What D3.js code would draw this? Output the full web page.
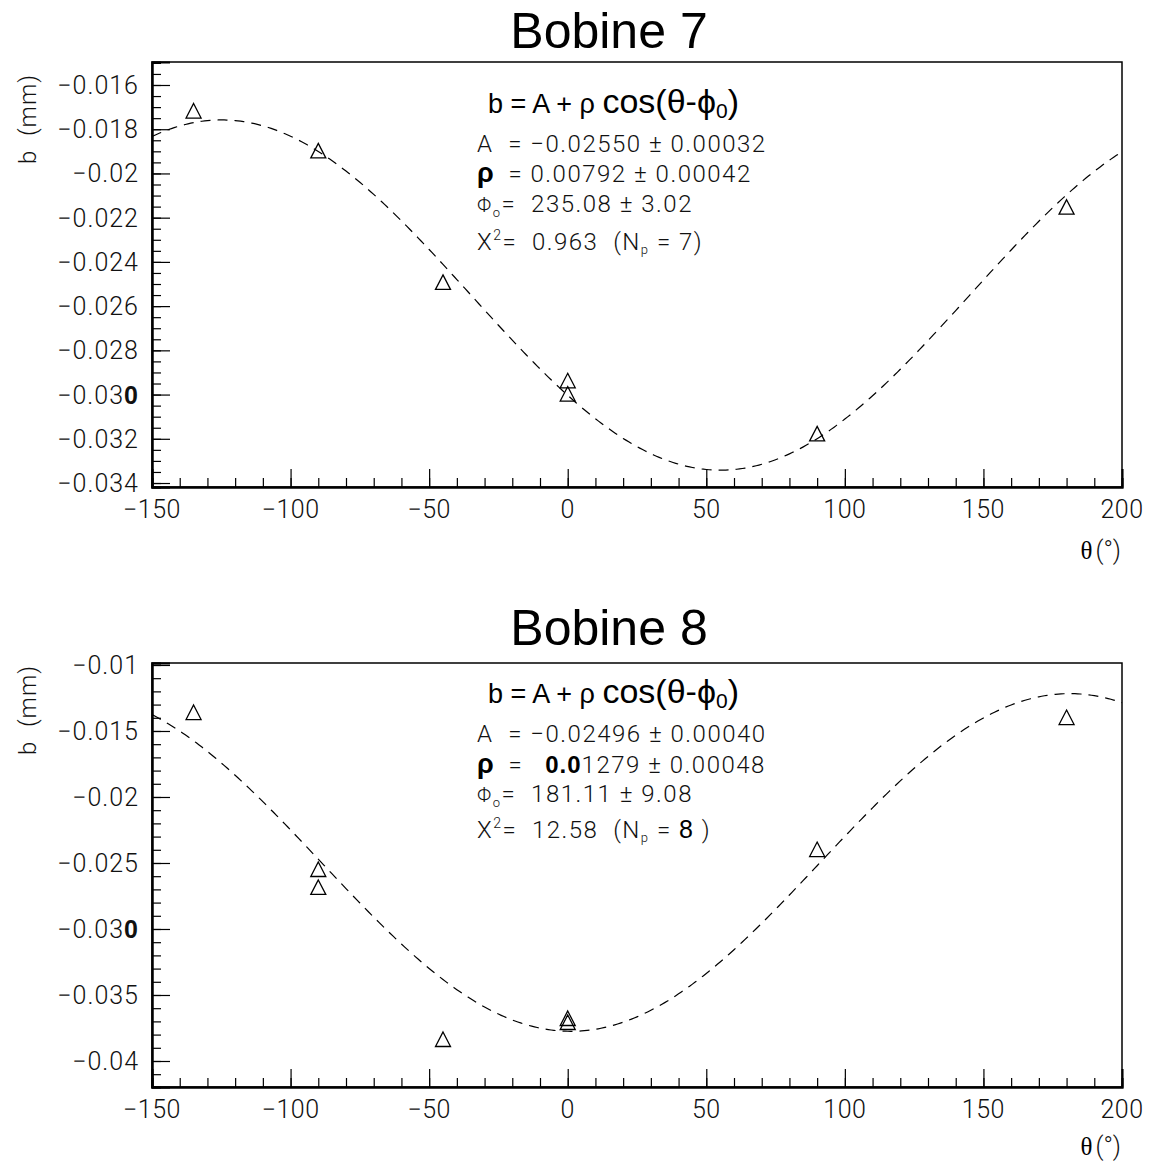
<!DOCTYPE html>
<html><head><meta charset="utf-8">
<script src="https://cdn.jsdelivr.net/npm/d3@7"></script>
<style>
body{margin:0;background:#fff;}
svg{display:block;}
.lt{font-family:Roboto,"Liberation Sans",sans-serif;font-weight:300;fill:#111;}
.ar{font-family:"Liberation Sans",Arial,sans-serif;fill:#000;}
</style></head>
<body>
<script>
// ---------- data ----------
const titles = ["Bobine 7", "Bobine 8"];
const thetaB7 = [-135, -90, -45, 0, 0, 90, 180];
const bB7 = [-0.0172, -0.0190, -0.02495, -0.0294, -0.0300, -0.0318, -0.02155];
const thetaB8 = [-135, -90, -90, -45, 0, 0, 90, 180];
const bB8 = [-0.01364, -0.02553, -0.02689, -0.03841, -0.03682, -0.03712, -0.02402, -0.01402];
// fit parameters shown on the chart: b = A + rho cos(theta - phi0)
const fitA = [-0.02550, -0.02496];
const fitRho = [0.00792, 0.01279];
const fitPhi0 = [235.08, 181.11];
const xTickValues = [-150, -100, -50, 0, 50, 100, 150, 200];
const xTickLabels = ["\u2212150", "\u2212100", "\u221250", "0", "50", "100", "150", "200"];
const yTickValuesB7 = [-0.034, -0.032, -0.030, -0.028, -0.026, -0.024, -0.022, -0.020, -0.018, -0.016];
const yTickLabelsB7 = ["\u22120.034", "\u22120.032", "\u22120.030", "\u22120.028", "\u22120.026", "\u22120.024", "\u22120.022", "\u22120.02", "\u22120.018", "\u22120.016"];
const yTickValuesB8 = [-0.040, -0.035, -0.030, -0.025, -0.020, -0.015, -0.010];
const yTickLabelsB8 = ["\u22120.04", "\u22120.035", "\u22120.030", "\u22120.025", "\u22120.02", "\u22120.015", "\u22120.01"];
const fitTextB7 = ["\u22120.02550 \u00b1 0.00032", "0.00792 \u00b1 0.00042", "235.08 \u00b1 3.02", "0.963", "7"];
const fitTextB8 = ["\u22120.02496 \u00b1 0.00040", "1279 \u00b1 0.00048", "181.11 \u00b1 9.08", "12.58", "8"];

// ---------- layout ----------
const W = 1152, H = 1162;
const svg = d3.select("body").append("svg").attr("width", W).attr("height", H);

const panels = [
  {title: titles[0], titleY: 48, top: 62, bottom: 487, yDom: [-0.03418, -0.01496],
   yMajor: yTickValuesB7, yLabels: yTickLabelsB7, yMinorStep: 0.0005,
   theta: thetaB7, b: bB7, k: 0, txt: fitTextB7, eqY: 113, lineY: [152, 182, 212, 250],
   yTitleEnd: 74, xLabY: 518, xTitleY: 559},
  {title: titles[1], titleY: 645, top: 663, bottom: 1087, yDom: [-0.04197, -0.00985],
   yMajor: yTickValuesB8, yLabels: yTickLabelsB8, yMinorStep: 0.001,
   theta: thetaB8, b: bB8, k: 1, txt: fitTextB8, eqY: 703, lineY: [742, 773, 802, 838],
   yTitleEnd: 665, xLabY: 1118, xTitleY: 1155}
];
const L = 152, R = 1122;

panels.forEach(p => {
  const g = svg.append("g");
  const x = d3.scaleLinear().domain([-150, 200]).range([L, R]);
  const y = d3.scaleLinear().domain(p.yDom).range([p.bottom, p.top]);

  // title
  g.append("text").attr("class", "ar").attr("x", 609).attr("y", p.titleY)
    .attr("text-anchor", "middle").attr("font-size", 50).text(p.title);

  // frame
  g.append("rect").attr("x", L).attr("y", p.top).attr("width", R - L).attr("height", p.bottom - p.top)
    .attr("fill", "none").attr("stroke", "#000").attr("stroke-width", 1.5);

  // x axis ticks (inside)
  const xMinor = d3.range(-150, 200.01, 10);
  const xaxMin = d3.axisBottom(x).tickValues(xMinor).tickSize(-9).tickFormat("");
  const gxm = g.append("g").attr("transform", `translate(0,${p.bottom})`).call(xaxMin);
  const xax = d3.axisBottom(x).tickValues(xTickValues).tickSize(-18).tickFormat("");
  const gx = g.append("g").attr("transform", `translate(0,${p.bottom})`).call(xax);
  [gxm, gx].forEach(s => { s.select(".domain").attr("stroke", "#000").attr("stroke-width", 2); s.selectAll("line").attr("stroke", "#000").attr("stroke-width", 1.2); });
  g.selectAll(null).data(xTickValues).enter().append("text").attr("class", "lt")
    .attr("x", d => x(d)).attr("y", p.xLabY).attr("text-anchor", "middle").attr("font-size", 25)
    .attr("letter-spacing", 0.5)
    .text((d, i) => xTickLabels[i]);

  // y axis ticks (inside)
  const lo = p.yDom[0], hi = p.yDom[1];
  const yMinor = d3.range(Math.ceil(lo / p.yMinorStep - 1e-6), Math.floor(hi / p.yMinorStep + 1e-6) + 1).map(i => i * p.yMinorStep);
  const yaxMin = d3.axisLeft(y).tickValues(yMinor).tickSize(-9).tickFormat("");
  const gym = g.append("g").attr("transform", `translate(${L},0)`).call(yaxMin);
  const yax = d3.axisLeft(y).tickValues(p.yMajor).tickSize(-18).tickFormat("");
  const gy = g.append("g").attr("transform", `translate(${L},0)`).call(yax);
  [gym, gy].forEach(s => { s.select(".domain").attr("stroke", "#000").attr("stroke-width", 2); s.selectAll("line").attr("stroke", "#000").attr("stroke-width", 1.2); });
  const yl = g.selectAll(null).data(p.yMajor).enter().append("text").attr("class", "lt")
    .attr("x", 139).attr("y", d => y(d)).attr("dy", "0.36em").attr("text-anchor", "end")
    .attr("font-size", 25).attr("letter-spacing", 1);
  yl.each(function(d, i) {
    const lab = p.yLabels[i];
    const t = d3.select(this);
    if (lab === "\u22120.030") {
      t.append("tspan").text("\u22120.03");
      t.append("tspan").attr("font-weight", 700).attr("font-family", "Liberation Sans").text("0");
    } else t.text(lab);
  });

  // axis titles
  g.append("text").attr("class", "lt").attr("transform", `translate(36,${p.yTitleEnd}) rotate(-90)`)
    .attr("text-anchor", "end").attr("font-size", 24).attr("letter-spacing", 1).attr("xml:space", "preserve")
    .text("b  (mm)");
  const xt = g.append("text").attr("x", 1121).attr("y", p.xTitleY).attr("text-anchor", "end");
  xt.append("tspan").attr("font-family", "Liberation Serif, serif").attr("font-size", 25).text("\u03b8");
  xt.append("tspan").attr("class", "lt").attr("font-size", 25).attr("dx", 3).text("(\u00b0)");

  // fit curve
  const A = fitA[p.k], rho = fitRho[p.k], phi = fitPhi0[p.k];
  const curve = d3.range(-150, 200.001, 1).map(t => [t, A + rho * Math.cos((t - phi) * Math.PI / 180)]);
  g.append("path").datum(curve)
    .attr("d", d3.line().x(d => x(d[0])).y(d => y(d[1])))
    .attr("fill", "none").attr("stroke", "#000").attr("stroke-width", 1.2).attr("stroke-dasharray", "10,7");

  // markers (open triangles)
  const tri = "M0,-8 L7.5,6.5 L-7.5,6.5 Z";
  g.selectAll(null).data(p.theta.map((t, i) => [t, p.b[i]])).enter().append("path")
    .attr("d", tri).attr("transform", d => `translate(${x(d[0])},${y(d[1])})`)
    .attr("fill", "none").attr("stroke", "#000").attr("stroke-width", 1.3);

  // fit annotation
  const eq = g.append("text").attr("class", "ar").attr("x", 488).attr("y", p.eqY);
  eq.append("tspan").attr("font-size", 27).text("b = A + \u03c1 ");
  eq.append("tspan").attr("font-size", 34).text("cos(\u03b8-\u03d5");
  eq.append("tspan").attr("font-size", 21).attr("dy", 5).text("0");
  eq.append("tspan").attr("font-size", 34).attr("dy", -5).text(")");

  const tx = 477, fs = 24, ls = 1.5;
  g.append("text").attr("class", "lt").attr("x", tx).attr("y", p.lineY[0]).attr("font-size", fs)
    .attr("letter-spacing", ls).attr("xml:space", "preserve").text("A  = " + p.txt[0]);

  const r = g.append("text").attr("x", tx).attr("y", p.lineY[1]).attr("xml:space", "preserve");
  r.append("tspan").attr("class", "ar").attr("font-weight", 700).attr("font-size", 27).text("\u03c1");
  if (p.k === 0) {
    r.append("tspan").attr("class", "lt").attr("font-size", fs).attr("letter-spacing", ls).text("  = " + p.txt[1]);
  } else {
    r.append("tspan").attr("class", "lt").attr("font-size", fs).attr("letter-spacing", ls).text("  =   ");
    r.append("tspan").attr("class", "ar").attr("font-weight", 700).attr("font-size", 24).attr("letter-spacing", 1).text("0.0");
    r.append("tspan").attr("class", "lt").attr("font-size", fs).attr("letter-spacing", ls).text(p.txt[1]);
  }

  const f = g.append("text").attr("class", "lt").attr("x", tx).attr("y", p.lineY[2]).attr("font-size", fs)
    .attr("letter-spacing", ls).attr("xml:space", "preserve");
  f.append("tspan").attr("font-size", 20).text("\u03a6");
  f.append("tspan").attr("font-size", 13).attr("dy", 5).text("o");
  f.append("tspan").attr("dy", -5).text("=  " + p.txt[2]);

  const c = g.append("text").attr("class", "lt").attr("x", tx).attr("y", p.lineY[3]).attr("font-size", fs)
    .attr("letter-spacing", ls).attr("xml:space", "preserve");
  c.append("tspan").text("X");
  c.append("tspan").attr("font-size", 14).attr("dy", -10).text("2");
  c.append("tspan").attr("dy", 10).text("=  " + p.txt[3] + "  (N");
  c.append("tspan").attr("font-size", 13).attr("dy", 4).text("p");
  if (p.k === 0) {
    c.append("tspan").attr("dy", -4).text(" = " + p.txt[4] + ")");
  } else {
    c.append("tspan").attr("dy", -4).text(" = ");
    c.append("tspan").attr("class", "ar").attr("font-size", 25).text(p.txt[4]);
    c.append("tspan").text(" )");
  }
});
</script>
</body></html>
